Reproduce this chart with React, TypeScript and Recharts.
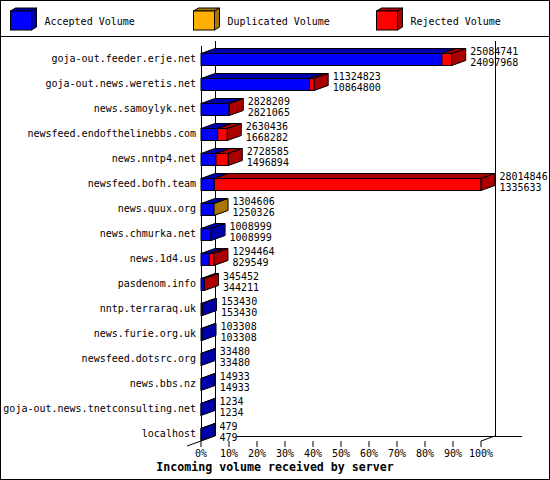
import { BarChart, Bar, XAxis, YAxis } from "recharts";

const SERVERS = [
  "goja-out.feeder.erje.net",
  "goja-out.news.weretis.net",
  "news.samoylyk.net",
  "newsfeed.endofthelinebbs.com",
  "news.nntp4.net",
  "newsfeed.bofh.team",
  "news.quux.org",
  "news.chmurka.net",
  "news.1d4.us",
  "pasdenom.info",
  "nntp.terraraq.uk",
  "news.furie.org.uk",
  "newsfeed.dotsrc.org",
  "news.bbs.nz",
  "goja-out.news.tnetconsulting.net",
  "localhost",
];

// incoming volume (upper label) and accepted volume (lower label)
const TOTAL_VOLUME = [
  25084741, 11324823, 2828209, 2630436, 2728585, 28014846, 1304606, 1008999,
  1294464, 345452, 153430, 103308, 33480, 14933, 1234, 479,
];
const ACCEPTED = [
  24097968, 10864800, 2821065, 1668282, 1496894, 1335633, 1250326, 1008999,
  829549, 344211, 153430, 103308, 33480, 14933, 1234, 479,
];
const DUPLICATED = [0, 0, 0, 0, 0, 0, 54280, 0, 0, 0, 0, 0, 0, 0, 0, 0];
const REJECTED = [
  986773, 460023, 7144, 962154, 1231691, 26679213, 0, 0, 464915, 1241, 0, 0, 0,
  0, 0, 0,
];

const PERCENT_TICKS = [0, 10, 20, 30, 40, 50, 60, 70, 80, 90, 100];

const W = 550;
const H = 480;
const PLOT_LEFT = 201;
const PLOT_WIDTH = 280;
const PLOT_TOP = 46.5;
const ROW_H = 25;
const XAXIS_H = 20;
const DX = 14;
const DY = 5;
const FONT = '"DejaVu Sans Mono", "Liberation Mono", monospace';

const SERIES = [
  { key: "accepted", label: "Accepted Volume", front: "#0000ff", side: "#0000aa" },
  { key: "duplicated", label: "Duplicated Volume", front: "#ffb000", side: "#aa7600" },
  { key: "rejected", label: "Rejected Volume", front: "#ff0000", side: "#aa0000" },
];

const MAX = Math.max(...TOTAL_VOLUME);

const data = SERVERS.map((name, i) => ({
  name,
  total: TOTAL_VOLUME[i],
  accepted: ACCEPTED[i],
  duplicated: DUPLICATED[i],
  rejected: REJECTED[i],
}));

const plotHeight = SERVERS.length * ROW_H;
const floorFront = PLOT_TOP + plotHeight - 5.5;
const floorBack = floorFront - DY;
const plotRight = PLOT_LEFT + PLOT_WIDTH;

function topSegment(row: any): string {
  for (let i = SERIES.length - 1; i >= 0; i--) {
    if (row[SERIES[i].key] > 0) return SERIES[i].key;
  }
  return SERIES[0].key;
}

function makeShape(seg: (typeof SERIES)[number]) {
  return (props: any) => {
    const { x, y, height, payload } = props;
    const w = Math.max(0, props.width || 0);
    const last = topSegment(payload) === seg.key;
    if (w <= 0 && !last) return <g />;
    const r = x + w;
    return (
      <g>
        <polygon
          points={`${x},${y} ${x + DX},${y - DY} ${r + DX},${y - DY} ${r},${y}`}
          fill={seg.side}
          stroke="#000"
        />
        <rect x={x} y={y} width={w} height={height} fill={seg.front} stroke="#000" />
        {last && (
          <>
            <polygon
              points={`${r},${y} ${r + DX},${y - DY} ${r + DX},${y + height - DY} ${r},${y + height}`}
              fill={seg.side}
              stroke="#000"
            />
            <text x={r + DX + 4.5} y={y + 1.8} fontFamily={FONT} fontSize={10} fill="#000">
              {payload.total}
            </text>
            <text x={r + DX + 4.5} y={y + 12.2} fontFamily={FONT} fontSize={10} fill="#000">
              {payload.accepted}
            </text>
          </>
        )}
      </g>
    );
  };
}

function ServerTick({ x, y, payload }: any) {
  return (
    <text x={x} y={y + 3} textAnchor="end" fontFamily={FONT} fontSize={10} fill="#000">
      {payload.value}
    </text>
  );
}

function PercentTick({ x, y, payload }: any) {
  const pct = Math.round((payload.value / MAX) * 100);
  return (
    <g>
      <line x1={x} x2={x} y1={y - 5.5} y2={y + 0.5} stroke="#000" />
      <text x={x} y={y + 10.5} textAnchor="middle" fontFamily={FONT} fontSize={10} fill="#000">
        {pct}%
      </text>
    </g>
  );
}

function LegendBox({ x, seg }: { x: number; seg: (typeof SERIES)[number] }) {
  const y = 11;
  const w = 21;
  const h = 19;
  const d = 5;
  const e = 3;
  return (
    <g>
      <polygon
        points={`${x},${y} ${x + d},${y - e} ${x + w + d},${y - e} ${x + w},${y}`}
        fill={seg.side}
        stroke="#000"
      />
      <polygon
        points={`${x + w},${y} ${x + w + d},${y - e} ${x + w + d},${y + h - e} ${x + w},${y + h}`}
        fill={seg.side}
        stroke="#000"
      />
      <rect x={x} y={y} width={w} height={h} fill={seg.front} stroke="#000" />
      <text x={x + 34} y={24.5} fontFamily={FONT} fontSize={10} fill="#000">
        {seg.label}
      </text>
    </g>
  );
}

export default function App() {
  return (
    <div style={{ position: "absolute", left: 0, top: 0, width: W, height: H, background: "#fff" }}>
      <svg width={W} height={H} style={{ position: "absolute", left: 0, top: 0 }}>
        <rect x={0.5} y={0.5} width={W - 1} height={H - 1} fill="#fff" stroke="#000" />
        <line x1={0} x2={W} y1={36.5} y2={36.5} stroke="#000" />
        {SERIES.map((s, i) => (
          <LegendBox key={s.key} x={10.5 + 183 * i} seg={s} />
        ))}
        {/* 3d frame */}
        <g stroke="#000" shapeRendering="crispEdges">
          <line x1={PLOT_LEFT + 0.5} x2={PLOT_LEFT + 0.5} y1={46} y2={floorFront} />
          <line x1={PLOT_LEFT + DX + 0.5} x2={PLOT_LEFT + DX + 0.5} y1={41} y2={floorBack} />
          <line x1={plotRight + DX + 0.5} x2={plotRight + DX + 0.5} y1={41} y2={floorBack} />
          <line x1={PLOT_LEFT + DX + 22} x2={plotRight + DX + 27} y1={floorBack + 0.5} y2={floorBack + 0.5} />
        </g>
        <g stroke="#000">
          <line x1={PLOT_LEFT - DX} y1={floorFront + DY} x2={PLOT_LEFT + DX} y2={floorBack} />
          <line x1={plotRight} y1={floorFront} x2={plotRight + DX} y2={floorBack} />
        </g>
        <text
          x={W / 2}
          y={471}
          textAnchor="middle"
          fontFamily={FONT}
          fontWeight="bold"
          fontSize={11.6}
          fill="#000"
        >
          Incoming volume received by server
        </text>
      </svg>
      <div style={{ position: "absolute", left: 0, top: 0 }}>
        <BarChart
          width={W}
          height={H}
          data={data}
          layout="vertical"
          barSize={12}
          margin={{
            top: PLOT_TOP,
            right: W - plotRight,
            bottom: H - PLOT_TOP - plotHeight - XAXIS_H,
            left: 0,
          }}
        >
          <XAxis
            type="number"
            domain={[0, MAX]}
            ticks={PERCENT_TICKS.map((p) => (MAX * p) / 100)}
            interval={0}
            height={XAXIS_H}
            tickSize={0}
            tickMargin={0}
            axisLine={false}
            tickLine={false}
            tick={<PercentTick />}
          />
          <YAxis
            type="category"
            dataKey="name"
            width={PLOT_LEFT}
            interval={0}
            tickSize={0}
            tickMargin={5}
            axisLine={false}
            tickLine={false}
            tick={<ServerTick />}
          />
          {SERIES.map((s) => (
            <Bar
              key={s.key}
              dataKey={s.key}
              name={s.label}
              stackId="volume"
              fill={s.front}
              shape={makeShape(s)}
              isAnimationActive={false}
            />
          ))}
        </BarChart>
      </div>
    </div>
  );
}
